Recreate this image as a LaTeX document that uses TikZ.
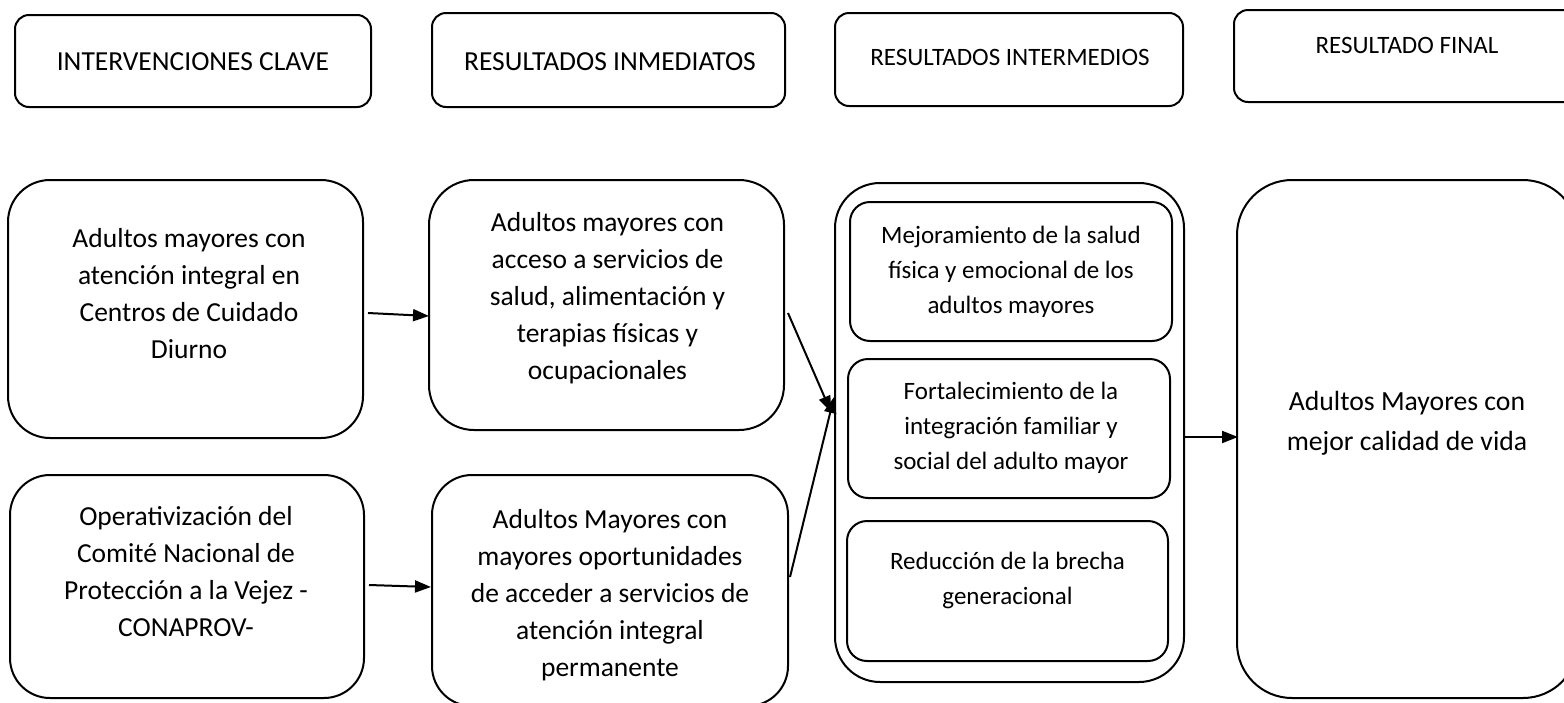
\documentclass[tikz,border=0pt]{standalone}
\usepackage{fontspec}
\setmainfont{Carlito}
\usetikzlibrary{arrows.meta}
\begin{document}
\begin{tikzpicture}[x=1pt,y=-1pt,
  box/.style={draw, line width=2pt, rectangle, inner sep=0pt},
  hdr/.style={box, rounded corners=14pt},
  big/.style={align=center, inner sep=0pt, font=\fontsize{27.5}{37}\selectfont},
  small/.style={align=center, inner sep=0pt, font=\fontsize{25}{35}\selectfont},
  fin/.style={align=center, inner sep=0pt, font=\fontsize{27.7}{40}\selectfont},
  arr/.style={draw, line width=2pt, -{Triangle[length=16pt,width=12pt]}}
]
\useasboundingbox (0,0) rectangle (1564,702);
% headers
\node[hdr, minimum width=356, minimum height=92] (h1) at (193,61) {};
\node[hdr, minimum width=353, minimum height=94] (h2) at (608.5,60) {};
\node[hdr, minimum width=348, minimum height=93] (h3) at (1009,59.5) {};
\node[hdr, minimum width=346, minimum height=92] (h4) at (1407,56) {};
\node[big] (th1) at (193,62) {INTERVENCIONES CLAVE};
\node[big] (th2) at (610,62) {RESULTADOS INMEDIATOS};
\node[small] (th3) at (1010,57) {RESULTADOS INTERMEDIOS};
\node[small] (th4) at (1407,45) {RESULTADO FINAL};
% boxes
\node[box, rounded corners=42pt, minimum width=355, minimum height=258] (b1) at (185.5,309) {};
\node[box, rounded corners=45pt, minimum width=355, minimum height=250] (b2) at (606.5,305) {};
\node[box, rounded corners=40pt, minimum width=354, minimum height=223] (b3) at (187,586.5) {};
\node[box, rounded corners=40pt, minimum width=356, minimum height=231] (b4) at (610,590.5) {};
\node[box, rounded corners=45pt, minimum width=349, minimum height=499] (out) at (1009.5,432.5) {};
\node[box, rounded corners=20pt, minimum width=322, minimum height=139] (ia) at (1011,271.5) {};
\node[box, rounded corners=20pt, minimum width=322, minimum height=139] (ib) at (1009,428.5) {};
\node[box, rounded corners=20pt, minimum width=321, minimum height=140] (ic) at (1007.5,591) {};
\node[box, rounded corners=55pt, minimum width=341, minimum height=518] (f) at (1407.5,439) {};
% texts
\node[big] (t1) at (189,294) {Adultos mayores con\\atención integral en\\Centros de Cuidado\\Diurno};
\node[big] (t2) at (607.5,298) {Adultos mayores con\\acceso a servicios de\\salud, alimentación y\\terapias físicas y\\ocupacionales};
\node[big] (t3) at (186,571.5) {Operativización del\\Comité Nacional de\\Protección a la Vejez -\\CONAPROV-};
\node[big] (t4) at (610,595.5) {Adultos Mayores con\\mayores oportunidades\\de acceder a servicios de\\atención integral\\permanente};
\node[small] (ta) at (1011,272) {Mejoramiento de la salud\\física y emocional de los\\adultos mayores};
\node[small] (tb) at (1011,428) {Fortalecimiento de la\\integración familiar y\\social del adulto mayor};
\node[small] (tc) at (1007.5,580) {Reducción de la brecha\\generacional};
\node[fin] (tf) at (1407,423) {Adultos Mayores con\\mejor calidad de vida};
% arrows
\draw[arr] ([shift={(4,4)}]b1.east) -- ([shift={(1,11)}]b2.west);
\draw[arr] ([shift={(4,-1.5)}]b3.east) -- ([shift={(0,-3.5)}]b4.west);
\draw[arr] ([shift={(3,8)}]b2.east) -- ([shift={(-3,-20.5)}]out.west);
\draw[arr] ([shift={(1,-13.5)}]b4.east) -- ([shift={(0,-35.5)}]out.west);
\draw[arr] ([shift={(0,4.5)}]out.east) -- ([shift={(2,-2)}]f.west);
\end{tikzpicture}
\end{document}
